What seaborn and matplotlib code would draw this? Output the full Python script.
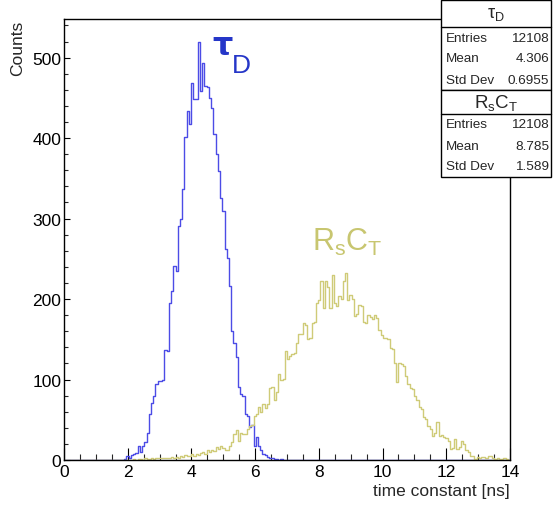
import matplotlib
matplotlib.use("Agg")
import matplotlib.pyplot as plt
from matplotlib.patches import Rectangle
from matplotlib.lines import Line2D
from matplotlib.ticker import MultipleLocator
import numpy as np
import pandas as pd
import seaborn as sns

N_BINS = 200
X_MIN, X_MAX = 0.0, 14.0

# counts per 0.07 ns bin (only the filled stretch, everything else is 0)
TAU_D_FIRST_BIN = 27
TAU_D_COUNTS = [
    1, 5, 3, 6, 8, 9, 17, 10, 17, 22,
    34, 57, 71, 80, 95, 98, 98, 100, 137, 136,
    195, 210, 241, 235, 291, 300, 337, 401, 434, 417,
    469, 448, 448, 520, 459, 493, 465, 463, 450, 437,
    405, 380, 359, 326, 310, 262, 251, 216, 160, 145,
    128, 91, 82, 80, 57, 55, 41, 43, 18, 29,
    18, 12, 7, 6, 4, 3, 2, 1, 1, 0, 1,
]
RSCT_FIRST_BIN = 30
RSCT_COUNTS = [
    0, 1, 0, 1, 1, 0, 2, 1, 1, 2,
    1, 3, 2, 2, 3, 2, 3, 2, 4, 3,
    4, 3, 5, 4, 6, 5, 5, 7, 5, 8,
    6, 9, 10, 8, 13, 10, 12, 11, 16, 14,
    17, 15, 12, 13, 18, 22, 32, 37, 24, 34,
    32, 32, 39, 42, 44, 55, 57, 66, 60, 70,
    64, 70, 89, 91, 75, 85, 107, 99, 101, 135,
    125, 129, 132, 133, 145, 157, 157, 170, 168, 150,
    152, 170, 172, 195, 199, 222, 189, 222, 215, 189,
    230, 195, 191, 204, 200, 222, 232, 199, 205, 200,
    179, 181, 193, 191, 172, 170, 180, 178, 175, 180,
    176, 162, 155, 151, 152, 150, 139, 138, 120, 97,
    120, 119, 117, 104, 95, 89, 88, 80, 74, 66,
    63, 54, 51, 42, 39, 30, 33, 47, 30, 31,
    29, 27, 24, 14, 15, 26, 14, 16, 24, 20,
    12, 10, 5, 5, 1, 4, 3, 4, 4, 3,
    5, 5, 2, 1, 2, 1, 1, 2, 1, 0,
]

STAT_NAMES = ["Entries", "Mean", "Std Dev"]
TAU_D_STATS = ["12108", "4.306", "0.6955"]
RSCT_STATS = ["12108", "8.785", "1.589"]

BLUE = "#4c4ce6"
BLUE_TXT = "#2536c8"
YELLOW = "#cfcb78"
YELLOW_TXT = "#c8c670"

W, H = 553, 506


def full(first, vals):
    c = np.zeros(N_BINS)
    c[first:first + len(vals)] = vals
    return c


def fx(px):
    return px / W


def fy(py):
    return 1 - py / H


edges = np.linspace(X_MIN, X_MAX, N_BINS + 1)
centers = (edges[:-1] + edges[1:]) / 2
df = pd.DataFrame({
    "t": centers,
    "tau": full(TAU_D_FIRST_BIN, TAU_D_COUNTS),
    "rsct": full(RSCT_FIRST_BIN, RSCT_COUNTS),
})

sns.set_style("ticks")
plt.rcParams["font.family"] = ["Liberation Sans", "DejaVu Sans"]
plt.rcParams["mathtext.fontset"] = "custom"
plt.rcParams["mathtext.rm"] = "Liberation Sans"
plt.rcParams["mathtext.it"] = "Liberation Sans"
plt.rcParams["mathtext.sf"] = "Liberation Sans"

fig = plt.figure(figsize=(W / 100, H / 100), dpi=100)
ax = fig.add_axes([fx(64), fy(461), fx(510) - fx(64), fy(20) - fy(461)])

sns.histplot(data=df, x="t", weights="tau", bins=N_BINS, binrange=(X_MIN, X_MAX),
             element="step", fill=False, color=BLUE, linewidth=1.0, ax=ax)
sns.histplot(data=df, x="t", weights="rsct", bins=N_BINS, binrange=(X_MIN, X_MAX),
             element="step", fill=False, color=YELLOW, linewidth=1.0, ax=ax)

ax.set_xlim(X_MIN, X_MAX)
ax.set_ylim(0, 548)
ax.set_xlabel("")
ax.set_ylabel("")

ax.xaxis.set_major_locator(MultipleLocator(2))
ax.xaxis.set_minor_locator(MultipleLocator(0.5))
ax.yaxis.set_major_locator(MultipleLocator(100))
ax.yaxis.set_minor_locator(MultipleLocator(20))
ax.tick_params(axis="x", which="major", direction="in", length=8.5, width=0.8,
               labelsize=12.5, pad=3, colors="black")
ax.tick_params(axis="x", which="minor", direction="in", length=4, width=0.8)
ax.tick_params(axis="y", which="major", direction="in", length=4.5, width=0.8,
               labelsize=12.5, pad=2, colors="black")
ax.tick_params(axis="y", which="minor", direction="in", length=2.8, width=0.8)
for s in ax.spines.values():
    s.set_visible(True)
    s.set_linewidth(1)
    s.set_color("black")

# tau_D label: ROOT-style big subscript, drawn as two pieces
ax.text(4.645, 504, "τ", color=BLUE_TXT, fontsize=23, family="DejaVu Sans",
        weight="semibold", ha="left", va="baseline")
ax.text(5.27, 482, "D", color=BLUE_TXT, fontsize=19, ha="left", va="baseline")
ax.text(7.78, 261, r"$R_{s}C_{T}$", color=YELLOW_TXT, fontsize=22,
        ha="left", va="baseline")

fig.text(fx(18), fy(21), "Counts", rotation=90, ha="center", va="top",
         fontsize=12.5)
fig.text(fx(510), fy(492), "time constant [ns]", ha="right", va="center",
         fontsize=12.5)


def stats_box(top, title_bottom, bottom, title, values, title_size):
    left, right = 441, 551
    fig.add_artist(Rectangle((fx(left), fy(bottom)), fx(right) - fx(left),
                             fy(top) - fy(bottom), facecolor="white",
                             edgecolor="black", linewidth=1,
                             transform=fig.transFigure))
    fig.add_artist(Line2D([fx(left), fx(right)], [fy(title_bottom)] * 2,
                          color="black", linewidth=1,
                          transform=fig.transFigure))
    fig.text(fx((left + right) / 2), fy((top + title_bottom) / 2), title,
             ha="center", va="center", fontsize=title_size)
    row_h = (bottom - title_bottom) / 3
    for k, (name, val) in enumerate(zip(STAT_NAMES, values)):
        yy = fy(title_bottom + row_h * (k + 0.5))
        fig.text(fx(446), yy, name, ha="left", va="center", fontsize=9.7)
        fig.text(fx(549), yy, val, ha="right", va="center", fontsize=9.7)


stats_box(1, 28, 91, r"$\tau_{D}$", TAU_D_STATS, 13)
stats_box(91, 115, 178, r"$R_{s}C_{T}$", RSCT_STATS, 13.5)

fig.savefig("out.png", dpi=100)
